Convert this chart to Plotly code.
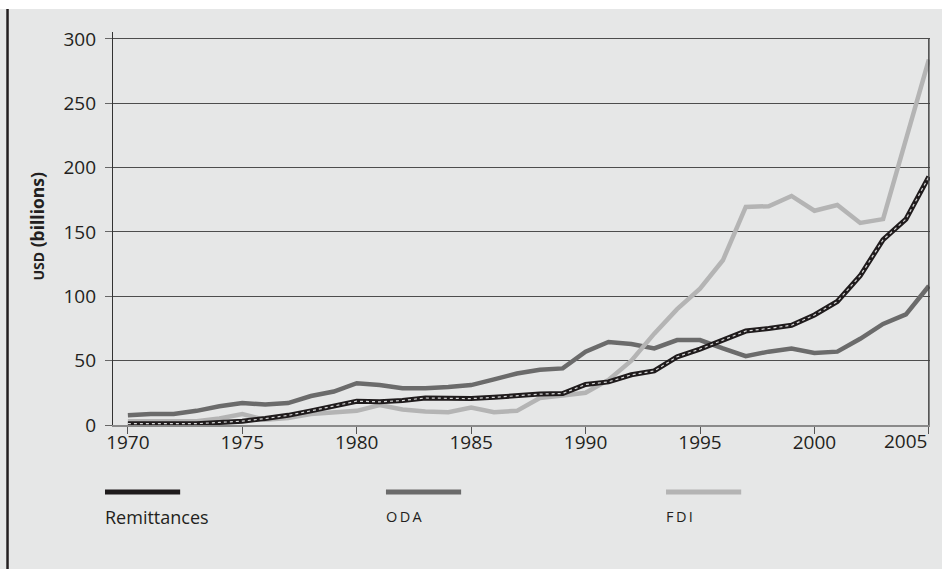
import plotly.graph_objects as go

years = list(range(1970, 2006))
remittances = [1, 1, 1, 1, 2, 3, 5, 7.5, 11, 15, 18.5, 18, 19, 21, 20.5, 20.5, 21.5, 23, 24, 24.5,
               31.5, 33.5, 39, 42, 53, 59, 66, 73, 75, 77.5, 85.5, 96, 116, 144, 160, 193]
oda = [7.5, 8.5, 8.5, 11, 14.5, 17, 16, 17, 22.5, 26, 32.5, 31, 28.5, 28.5, 29.5, 31, 35.5, 40, 43, 44,
       57, 64.5, 63, 59.5, 66, 66, 59.5, 53.5, 57, 59.5, 56, 57, 67, 78.5, 86, 108]
fdi = [3, 3, 3, 3, 5, 8.5, 4, 5.5, 8.5, 9.5, 11, 15.5, 12, 10.5, 10, 13.5, 10, 11, 21, 23,
       25, 35, 50, 71, 90, 106, 128, 169.5, 170, 178, 166.5, 171, 157, 160, 222, 284]
y_ticks = [0, 50, 100, 150, 200, 250, 300]
x_ticks = [1970, 1975, 1980, 1985, 1990, 1995, 2000, 2005]
x_ticktext = ["1970", "1975", "1980", "1985", "1990", "1995", "2000", ""]
last_tick_label = "2005"
labels = ["Remittances", "O\u2009D\u2009A", "F\u2009D\u2009I"]
colors = ["#1f1b1c", "#6b6b6b", "#b4b4b4"]

FONT = "Open Sans"
BG = "#e6e7e7"

fig = go.Figure()
fig.add_trace(go.Scatter(x=years, y=oda, mode="lines", line=dict(color=colors[1], width=4.5),
                         showlegend=False))
fig.add_trace(go.Scatter(x=years, y=fdi, mode="lines", line=dict(color=colors[2], width=4.5),
                         showlegend=False))
fig.add_trace(go.Scatter(x=years, y=remittances, mode="lines", line=dict(color=colors[0], width=5),
                         showlegend=False))
fig.add_trace(go.Scatter(x=years, y=remittances, mode="lines",
                         line=dict(color="#d6d6d6", width=1.2, dash="dot"), showlegend=False))

shapes = []
# top white strip and left black rule
shapes.append(dict(type="rect", xref="paper", yref="paper", x0=-0.2, x1=1.1, y0=1.0585, y1=1.12,
                   fillcolor="white", line=dict(width=0), layer="below"))
shapes.append(dict(type="line", xref="paper", yref="paper", x0=-0.1291, x1=-0.1291, y0=-0.37, y1=1.0585,
                   line=dict(color="#231f20", width=2.5)))
# right border of plot
shapes.append(dict(type="line", xref="x", yref="y", x0=x_ticks[-1], x1=x_ticks[-1], y0=0, y1=y_ticks[-1],
                   line=dict(color="#444444", width=1.5)))

# custom legend
leg_x = [-0.0098, 0.3341, 0.6769]
leg_w = 0.092
annotations = []
for i, lab in enumerate(labels):
    shapes.append(dict(type="line", xref="paper", yref="paper", x0=leg_x[i], x1=leg_x[i] + leg_w,
                       y0=-0.1705, y1=-0.1705, line=dict(color=colors[i], width=5)))
    annotations.append(dict(xref="paper", yref="paper", x=leg_x[i] - 0.002, y=-0.234, xanchor="left",
                            yanchor="middle", showarrow=False, text=lab,
                            font=dict(family=FONT, size=18 if i == 0 else 14.5, color="#231f20")))

annotations.append(dict(xref="paper", yref="paper", x=-0.0942, y=0.505, textangle=-90,
                        xanchor="center", yanchor="middle", showarrow=False,
                        text="<b><span style='font-size:14px'>USD</span> (billions)</b>",
                        font=dict(family=FONT, size=17.5, color="#231f20")))
# last x tick label, right-aligned to the tick so it stays inside the page
annotations.append(dict(xref="x", yref="paper", x=x_ticks[-1], y=-0.041, xanchor="right",
                        yanchor="middle", showarrow=False, text=last_tick_label,
                        font=dict(family=FONT, size=19, color="#231f20")))

fig.update_layout(
    width=942, height=569,
    margin=dict(l=113, r=12, t=32, b=144, pad=0, autoexpand=False),
    paper_bgcolor=BG, plot_bgcolor=BG,
    font=dict(family=FONT, color="#231f20"),
    xaxis=dict(range=[1969.35, 2005.05], tickvals=x_ticks, ticktext=x_ticktext, ticks="outside", ticklen=7,
               tickcolor="#555555", tickwidth=1.2, showline=True, linecolor="#8a8a8a", linewidth=2,
               showgrid=False, zeroline=False, tickfont=dict(size=19, color="#231f20"),
               ticklabelstandoff=-8, automargin=False),
    yaxis=dict(range=[0, 305.4], tickvals=y_ticks, ticks="outside", ticklen=7, tickcolor="#666666",
               tickwidth=1.2, showline=True, linecolor="#333333", linewidth=1.2, showgrid=True,
               gridcolor="#4d4d4d", gridwidth=1.2, zeroline=False, automargin=False,
               tickfont=dict(size=19, color="#231f20"), ticklabelstandoff=5),
    shapes=shapes, annotations=annotations,
    showlegend=False,
)

fig.write_html("out.html", config={"displayModeBar": False},
               post_script="document.body.style.margin='0px';")
